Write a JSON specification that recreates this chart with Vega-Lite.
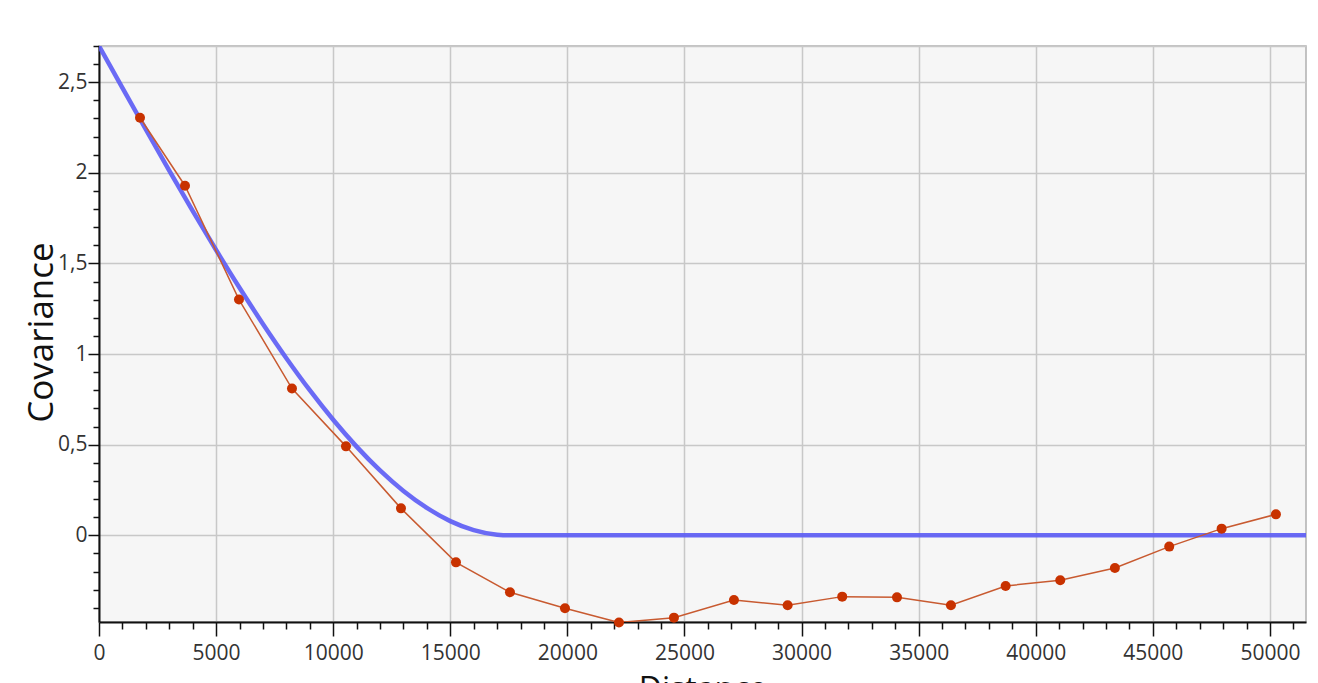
{
  "$schema": "https://vega.github.io/schema/vega-lite/v6.json",
  "width": 1207,
  "height": 576,
  "autosize": {"type": "none"},
  "padding": {"left": 99, "top": 46, "right": 12, "bottom": 61},
  "background": "white",
  "config": {
    "view": {"fill": "#f6f6f6", "stroke": "#b0b0b0", "strokeWidth": 1.5},
    "font": "Open Sans"
  },
  "datasets": {
    "empirical": [
      {"distance": 1751, "covariance": 2.304},
      {"distance": 3672, "covariance": 1.929},
      {"distance": 5978, "covariance": 1.301},
      {"distance": 8241, "covariance": 0.81},
      {"distance": 10546, "covariance": 0.491},
      {"distance": 12895, "covariance": 0.149},
      {"distance": 15243, "covariance": -0.149},
      {"distance": 17549, "covariance": -0.314},
      {"distance": 19898, "covariance": -0.402},
      {"distance": 22203, "covariance": -0.481},
      {"distance": 24551, "covariance": -0.454},
      {"distance": 27113, "covariance": -0.357},
      {"distance": 29405, "covariance": -0.386},
      {"distance": 31736, "covariance": -0.338},
      {"distance": 34075, "covariance": -0.342},
      {"distance": 36378, "covariance": -0.386},
      {"distance": 38714, "covariance": -0.279},
      {"distance": 41046, "covariance": -0.248},
      {"distance": 43380, "covariance": -0.18},
      {"distance": 45700, "covariance": -0.062},
      {"distance": 47937, "covariance": 0.037},
      {"distance": 50256, "covariance": 0.116}
    ],
    "model": [
      {"distance": 0, "covariance": 2.7},
      {"distance": 1000, "covariance": 2.4688},
      {"distance": 2000, "covariance": 2.2392},
      {"distance": 3000, "covariance": 2.0125},
      {"distance": 4000, "covariance": 1.7904},
      {"distance": 5000, "covariance": 1.5743},
      {"distance": 6000, "covariance": 1.3658},
      {"distance": 7000, "covariance": 1.1664},
      {"distance": 8000, "covariance": 0.9776},
      {"distance": 9000, "covariance": 0.8008},
      {"distance": 10000, "covariance": 0.6376},
      {"distance": 11000, "covariance": 0.4896},
      {"distance": 12000, "covariance": 0.3581},
      {"distance": 13000, "covariance": 0.2448},
      {"distance": 14000, "covariance": 0.1512},
      {"distance": 15000, "covariance": 0.0787},
      {"distance": 16000, "covariance": 0.0289},
      {"distance": 17000, "covariance": 0.0033},
      {"distance": 17500, "covariance": 0},
      {"distance": 51540, "covariance": 0}
    ]
  },
  "layer": [
    {
      "data": {"name": "model"},
      "mark": {"type": "line", "color": "#5b5bf5", "strokeWidth": 4.5, "opacity": 0.9, "interpolate": "monotone", "clip": true},
      "encoding": {
        "x": {
          "field": "distance", "type": "quantitative",
          "scale": {"domain": [0, 51540], "nice": false, "zero": false},
          "axis": {
            "title": "Distance",
            "titleFontSize": 32, "titleFontWeight": "normal", "titleColor": "#111", "titlePadding": 11,
            "tickCount": 500,
            "values": [0,1000,2000,3000,4000,5000,6000,7000,8000,9000,10000,11000,12000,13000,14000,15000,16000,17000,18000,19000,20000,21000,22000,23000,24000,25000,26000,27000,28000,29000,30000,31000,32000,33000,34000,35000,36000,37000,38000,39000,40000,41000,42000,43000,44000,45000,46000,47000,48000,49000,50000,51000],
            "labelExpr": "datum.value % 5000 === 0 ? format(datum.value, 'd') : ''",
            "labelOverlap": false,
            "labelFontSize": 21, "labelColor": "#333", "labelPadding": 6, "labelFlush": false,
            "domainColor": "#111", "domainWidth": 2,
            "tickColor": "#111", "tickWidth": 1.5,
            "tickSize": {"condition": {"test": "datum.value % 5000 === 0", "value": 14}, "value": 7},
            "grid": true, "gridColor": "#c8c8c8", "gridWidth": 1.5,
            "gridOpacity": {"condition": {"test": "datum.value % 5000 === 0 && datum.value > 0", "value": 1}, "value": 0}
          }
        },
        "y": {
          "field": "covariance", "type": "quantitative",
          "scale": {"domain": [-0.478, 2.7], "nice": false, "zero": false},
          "axis": {
            "title": "Covariance",
            "titleFontSize": 35, "titleFontWeight": "normal", "titleColor": "#111",
            "titleX": -40, "titleY": 286,
            "tickCount": 500,
            "values": [-0.4,-0.3,-0.2,-0.1,0,0.1,0.2,0.3,0.4,0.5,0.6,0.7,0.8,0.9,1,1.1,1.2,1.3,1.4,1.5,1.6,1.7,1.8,1.9,2,2.1,2.2,2.3,2.4,2.5,2.6,2.7],
            "labelExpr": "abs(datum.value * 2 - round(datum.value * 2)) < 0.001 ? replace(format(datum.value, '~g'), '.', ',') : ''",
            "labelOverlap": false,
            "labelFontSize": 21, "labelColor": "#333", "labelPadding": 1,
            "domainColor": "#111", "domainWidth": 2,
            "tickColor": "#111", "tickWidth": 1.5,
            "tickSize": {"condition": {"test": "abs(datum.value * 2 - round(datum.value * 2)) < 0.001", "value": 11}, "value": 6},
            "grid": true, "gridColor": "#c8c8c8", "gridWidth": 1.5,
            "gridOpacity": {"condition": {"test": "abs(datum.value * 2 - round(datum.value * 2)) < 0.001 || datum.value > 2.65", "value": 1}, "value": 0}
          }
        }
      }
    },
    {
      "data": {"name": "empirical"},
      "mark": {"type": "line", "color": "#c85a30", "strokeWidth": 1.5, "clip": true},
      "encoding": {
        "x": {"field": "distance", "type": "quantitative"},
        "y": {"field": "covariance", "type": "quantitative"}
      }
    },
    {
      "data": {"name": "empirical"},
      "mark": {"type": "circle", "color": "#c83200", "opacity": 1, "size": 100, "clip": false},
      "encoding": {
        "x": {"field": "distance", "type": "quantitative"},
        "y": {"field": "covariance", "type": "quantitative"}
      }
    }
  ]
}
